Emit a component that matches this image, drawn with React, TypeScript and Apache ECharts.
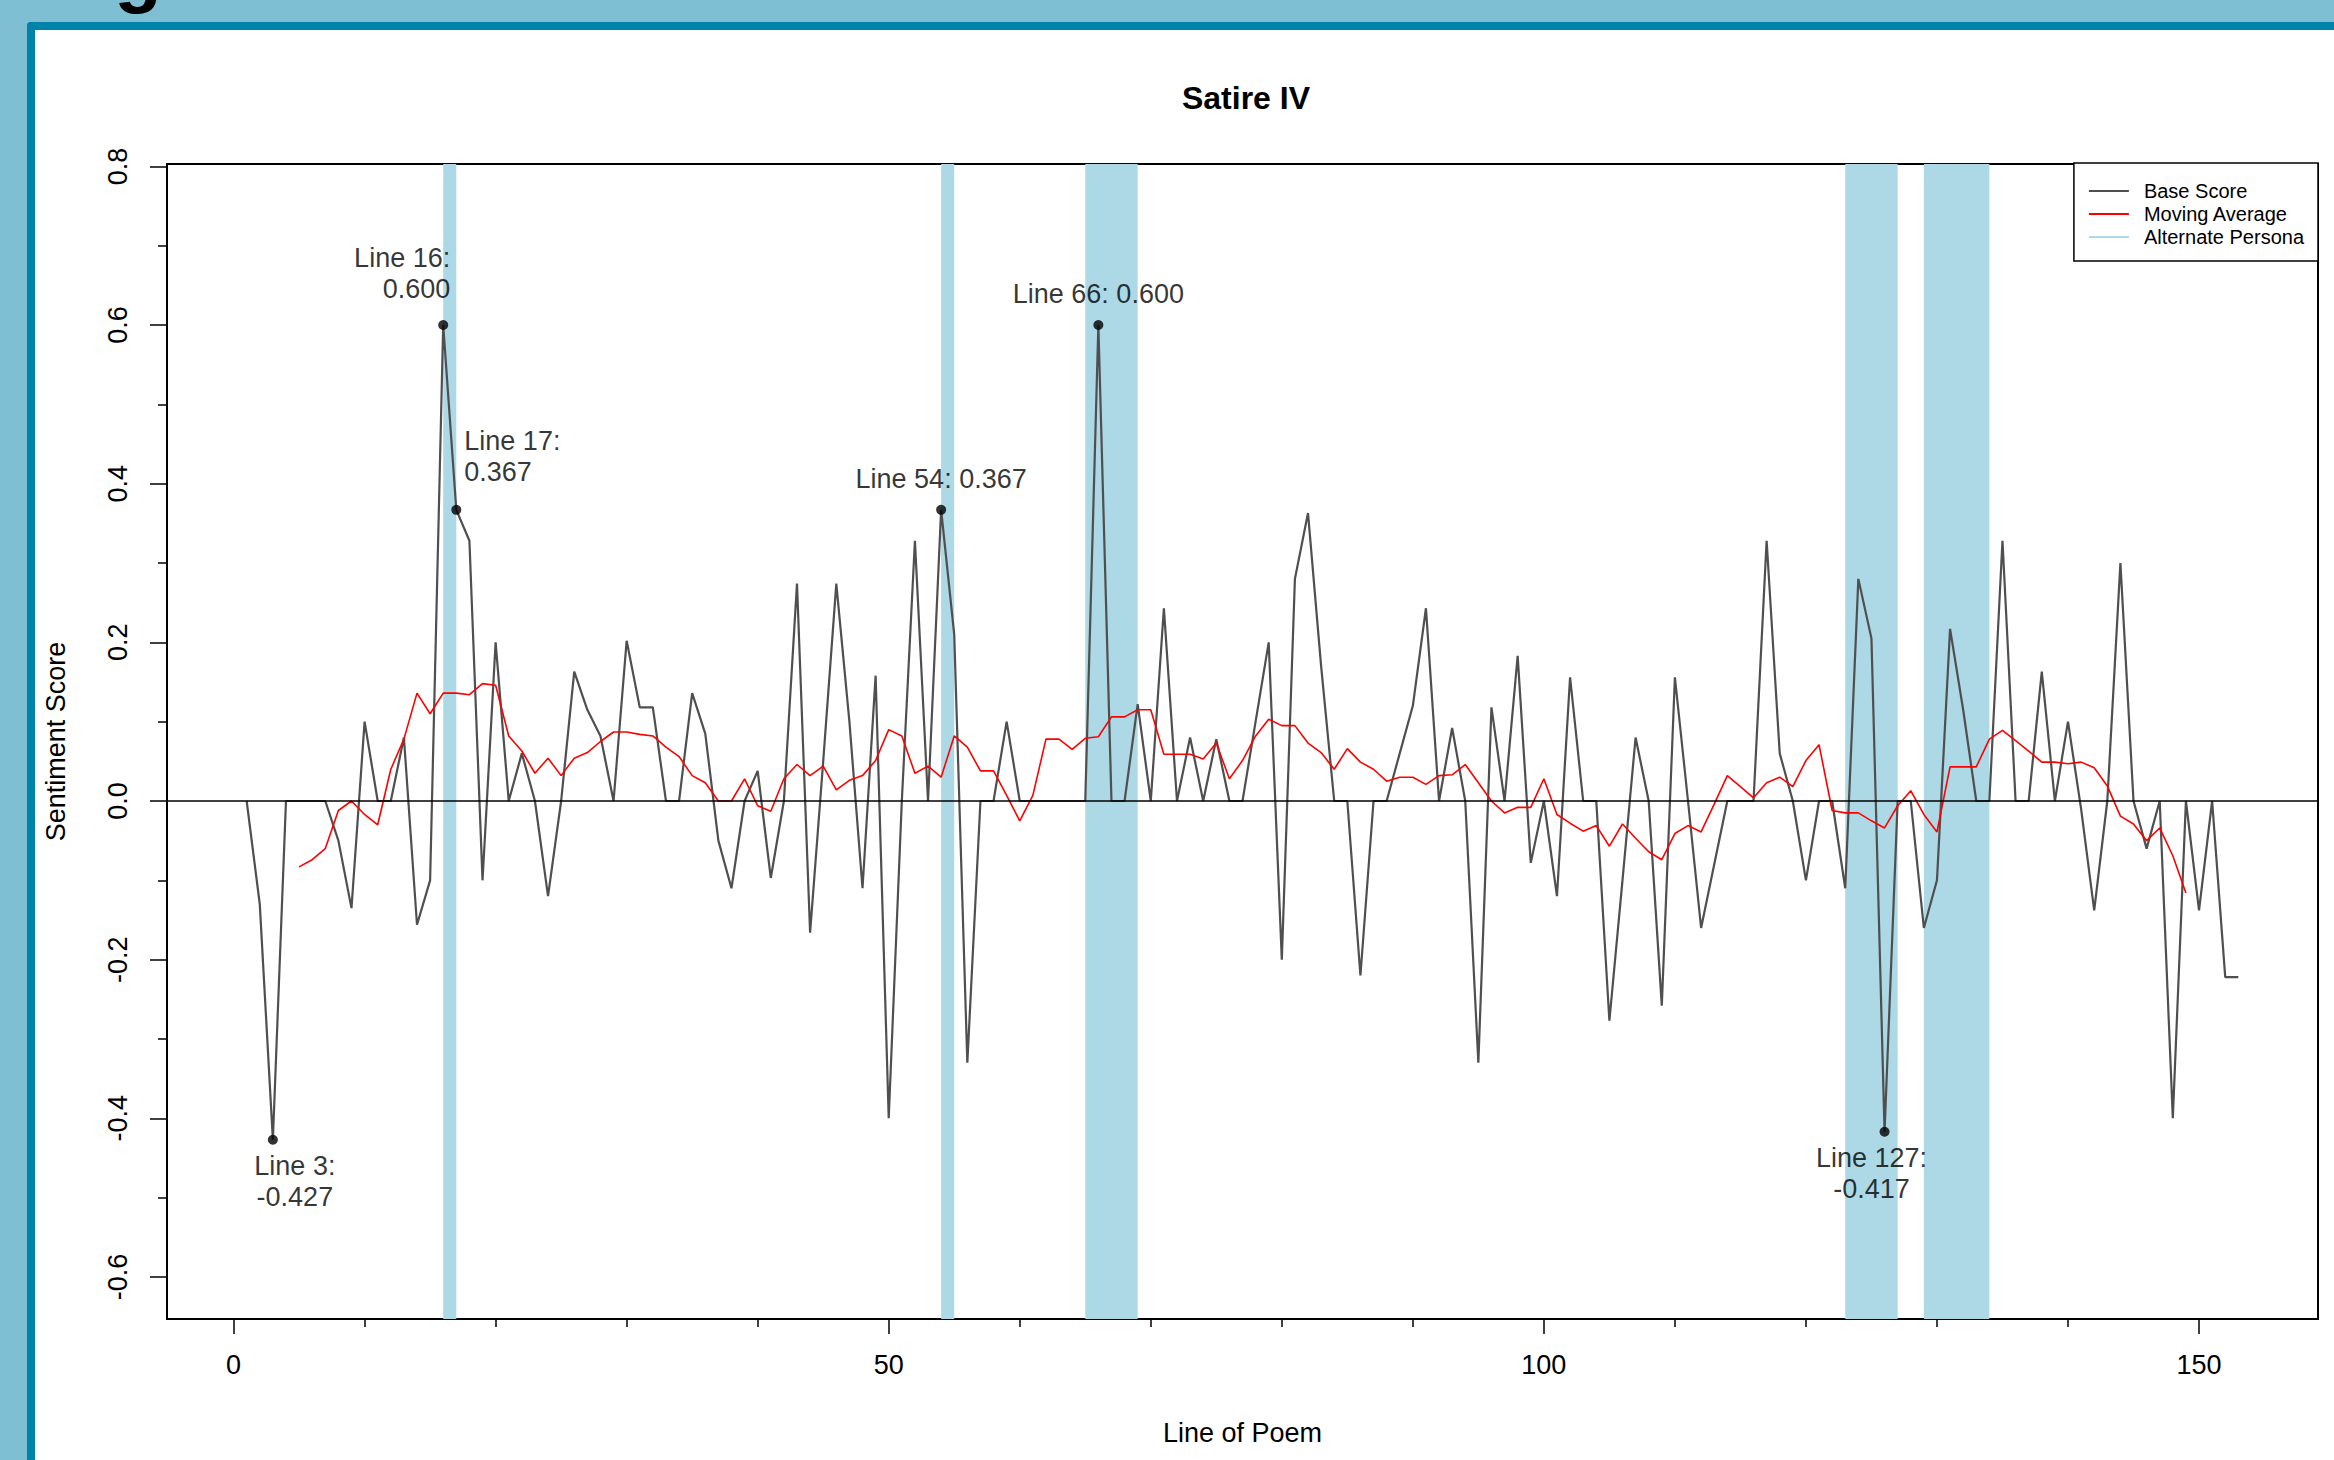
import React, { useEffect, useRef } from "react";
import * as echarts from "echarts";

const FIGURE_CAPTION = "Figure 4: Sentiment Fluctuation in Satire IV";
const CHART_TITLE = "Satire IV";
const X_AXIS_TITLE = "Line of Poem";
const Y_AXIS_TITLE = "Sentiment Score";
const SERIES_NAMES = ["Base Score", "Moving Average", "Alternate Persona"];

// Base sentiment score for poem lines 1..153
const baseScore = [
  0, -0.13, -0.427, 0, 0, 0, 0, -0.05, -0.135, 0.1,
  0, 0, 0.08, -0.156, -0.1, 0.6, 0.367, 0.328, -0.1, 0.2,
  0, 0.06, 0, -0.12, 0, 0.163, 0.115, 0.082, 0, 0.202,
  0.118, 0.118, 0, 0, 0.136, 0.085, -0.05, -0.11, 0, 0.038,
  -0.097, 0, 0.274, -0.166, 0.05, 0.274, 0.1, -0.11, 0.158, -0.4,
  0, 0.328, 0, 0.367, 0.21, -0.33, 0, 0, 0.1, 0,
  0, 0, 0, 0, 0, 0.6, 0, 0, 0.122, 0,
  0.243, 0, 0.08, 0, 0.078, 0, 0, 0.1, 0.2, -0.2,
  0.28, 0.363, 0.17, 0, 0, -0.22, 0, 0, 0.06, 0.12,
  0.243, 0, 0.092, 0, -0.33, 0.118, 0, 0.183, -0.078, 0,
  -0.12, 0.156, 0, 0, -0.277, -0.1, 0.08, 0, -0.258, 0.156,
  0, -0.16, -0.08, 0, 0, 0, 0.328, 0.06, 0, -0.1,
  0, 0, -0.11, 0.28, 0.205, -0.417, 0, 0, -0.16, -0.1,
  0.217, 0.115, 0, 0, 0.328, 0, 0, 0.163, 0, 0.1,
  -0.01, -0.138, 0, 0.3, 0, -0.06, 0, -0.4, 0, -0.138,
  0, -0.222, -0.222,
];

// Moving average, first value at line 5, last at line 149
const movingAverageStart = 5;
const movingAverage = [
  -0.083, -0.074, -0.06, -0.012, 0, -0.017, -0.03, 0.04, 0.078, 0.136,
  0.11, 0.136, 0.136, 0.134, 0.148, 0.146, 0.082, 0.063, 0.035, 0.054,
  0.032, 0.054, 0.061, 0.075, 0.087, 0.087, 0.084, 0.082, 0.068, 0.056,
  0.032, 0.023, 0, 0, 0.028, -0.006, -0.013, 0.028, 0.046, 0.032,
  0.044, 0.014, 0.026, 0.032, 0.051, 0.09, 0.082, 0.035, 0.044, 0.03,
  0.082, 0.068, 0.038, 0.038, 0.007, -0.025, 0.007, 0.078, 0.078, 0.065,
  0.079, 0.081, 0.106, 0.106, 0.115, 0.115, 0.059, 0.059, 0.059, 0.053,
  0.073, 0.028, 0.051, 0.082, 0.103, 0.095, 0.095, 0.073, 0.061, 0.04,
  0.066, 0.049, 0.04, 0.025, 0.03, 0.03, 0.021, 0.032, 0.033, 0.046,
  0.023, 0, -0.015, -0.008, -0.008, 0.028, -0.017, -0.028, -0.038, -0.031,
  -0.057, -0.029, -0.047, -0.064, -0.074, -0.041, -0.031, -0.039, -0.004, 0.032,
  0.018, 0.004, 0.023, 0.03, 0.018, 0.051, 0.071, -0.012, -0.015, -0.015,
  -0.025, -0.034, -0.006, 0.013, -0.017, -0.039, 0.043, 0.043, 0.043, 0.078,
  0.089, 0.076, 0.063, 0.049, 0.049, 0.047, 0.049, 0.042, 0.019, -0.019,
  -0.029, -0.05, -0.034, -0.069, -0.116,
];

// Alternate persona passages (start line, end line)
const alternatePersonaRanges = [
  [16, 17],
  [54, 55],
  [65, 69],
  [123, 127],
  [129, 134],
];

// Highlighted extremes
const highlightLineNumbers = [3, 16, 17, 54, 66, 127];
const highlightPositions = [3, 16, 17, 54, 66, 126];
const highlightValues = [-0.427, 0.6, 0.367, 0.367, 0.6, -0.417];

const xTickLabels = [0, 50, 100, 150];
const xMinorTicks = [10, 20, 30, 40, 60, 70, 80, 90, 110, 120, 130, 140];
const yTickLabels = [-0.6, -0.4, -0.2, 0, 0.2, 0.4, 0.6, 0.8];
const yMinorTicks = [-0.5, -0.3, -0.1, 0.1, 0.3, 0.5, 0.7];

const X_MIN = -5.08;
const X_MAX = 159.08;
const Y_MIN = -0.653;
const Y_MAX = 0.803;

const FONT = '"Liberation Sans", Arial, Helvetica, sans-serif';

const labelLayouts = [
  { sep: "\n", align: "center", offset: [22, 42] },
  { sep: "\n", align: "right", offset: [7, -52] },
  { sep: "\n", align: "left", offset: [8, -53] },
  { sep: " ", align: "center", offset: [0, -31] },
  { sep: " ", align: "center", offset: [0, -31] },
  { sep: "\n", align: "center", offset: [-13, 42] },
];

export default function App() {
  const ref = useRef<HTMLDivElement>(null);

  useEffect(() => {
    document.body.style.margin = "0";
    if (!ref.current) return;
    const chart = echarts.init(ref.current, null, { renderer: "svg" });

    const baseData = baseScore.map((v, i) => [i + 1, v]);
    const maData = movingAverage.map((v, i) => [movingAverageStart + i, v]);
    const highlightData = highlightPositions.map((x, i) => {
      const lay = labelLayouts[i];
      return {
        value: [x, highlightValues[i]],
        label: {
          show: true,
          position: "inside",
          formatter: `Line ${highlightLineNumbers[i]}:${lay.sep}${highlightValues[i].toFixed(3)}`,
          align: lay.align,
          verticalAlign: "middle",
          offset: lay.offset,
          fontSize: 27,
          lineHeight: 31,
          fontFamily: FONT,
          color: "#000",
        },
      };
    });

    const tickLine = { color: "#000", width: 1.5 };
    const axisText = { fontSize: 27, fontFamily: FONT, color: "#000" };
    const hiddenLine = { show: false, onZero: false };

    chart.setOption({
      animation: false,
      backgroundColor: "transparent",
      title: {
        text: CHART_TITLE,
        left: 1241,
        textAlign: "center",
        top: 77,
        textStyle: { fontSize: 32, fontWeight: "bold", fontFamily: FONT, color: "#000" },
      },
      graphic: [
        {
          type: "text",
          x: 45,
          y: -29,
          silent: true,
          style: {
            text: FIGURE_CAPTION,
            font: `bold 78px ${FONT}`,
            fill: "#000",
            verticalAlign: "middle",
            textVerticalAlign: "middle",
          },
        },
      ],
      legend: {
        orient: "vertical",
        right: 16,
        top: 163,
        data: SERIES_NAMES,
        icon: "rect",
        itemWidth: 40,
        itemHeight: 2,
        itemGap: 1,
        padding: [17, 14, 13, 15],
        borderColor: "#000",
        borderWidth: 1.5,
        backgroundColor: "#fff",
        selectedMode: false,
        textStyle: { fontSize: 20, lineHeight: 22, fontFamily: FONT, color: "#000", padding: [0, 0, 0, 10] },
      },
      grid: {
        left: 167,
        right: 16,
        top: 164,
        bottom: 141,
        show: true,
        borderColor: "#000",
        borderWidth: 2,
        backgroundColor: "transparent",
      },
      xAxis: [
        {
          type: "value",
          min: X_MIN,
          max: X_MAX,
          position: "bottom",
          splitLine: { show: false },
          axisLine: hiddenLine,
          axisTick: { show: true, customValues: xTickLabels, length: 15, lineStyle: tickLine },
          axisLabel: { show: true, customValues: xTickLabels, margin: 32, ...axisText },
          name: X_AXIS_TITLE,
          nameLocation: "middle",
          nameGap: 100,
          nameTextStyle: axisText,
        },
        {
          type: "value",
          min: X_MIN,
          max: X_MAX,
          position: "bottom",
          offset: 0,
          splitLine: { show: false },
          axisLine: hiddenLine,
          axisTick: { show: true, customValues: xMinorTicks, length: 8, lineStyle: tickLine },
          axisLabel: { show: false },
        },
      ],
      yAxis: [
        {
          type: "value",
          min: Y_MIN,
          max: Y_MAX,
          position: "left",
          splitLine: { show: false },
          axisLine: hiddenLine,
          axisTick: { show: true, customValues: yTickLabels, length: 17, lineStyle: tickLine },
          axisLabel: {
            show: true,
            customValues: yTickLabels,
            rotate: 90,
            margin: 36,
            formatter: (v: number) => v.toFixed(1),
            ...axisText,
          },
          name: Y_AXIS_TITLE,
          nameLocation: "middle",
          nameGap: 98,
          nameTextStyle: axisText,
        },
        {
          type: "value",
          min: Y_MIN,
          max: Y_MAX,
          position: "left",
          offset: 0,
          splitLine: { show: false },
          axisLine: hiddenLine,
          axisTick: { show: true, customValues: yMinorTicks, length: 9, lineStyle: tickLine },
          axisLabel: { show: false },
        },
      ],
      series: [
        {
          name: SERIES_NAMES[2],
          type: "line",
          data: [],
          z: 1,
          itemStyle: { color: "#add8e6" },
          lineStyle: { color: "#add8e6" },
          markArea: {
            silent: true,
            itemStyle: { color: "#add8e6", opacity: 1 },
            data: alternatePersonaRanges.map(([a, b]) => [{ xAxis: a }, { xAxis: b }]),
          },
        },
        {
          name: SERIES_NAMES[0],
          type: "line",
          data: baseData,
          z: 3,
          showSymbol: false,
          symbol: "none",
          itemStyle: { color: "#4f4f4f" },
          lineStyle: { color: "#4f4f4f", width: 2.2 },
          markLine: {
            silent: true,
            symbol: ["none", "none"],
            label: { show: false },
            lineStyle: { color: "#000", width: 1.5, type: "solid" },
            data: [{ yAxis: 0 }],
          },
        },
        {
          name: SERIES_NAMES[1],
          type: "line",
          data: maData,
          z: 4,
          showSymbol: false,
          symbol: "none",
          itemStyle: { color: "#ff0000" },
          lineStyle: { color: "#ff0000", width: 1.6 },
        },
        {
          name: "Highlights",
          type: "scatter",
          data: highlightData,
          z: 5,
          symbol: "circle",
          symbolSize: 10,
          itemStyle: { color: "#000" },
        },
      ],
    });

    return () => chart.dispose();
  }, []);

  return (
    <div style={{ position: "fixed", left: 0, top: 0, width: 2334, height: 1460, background: "#7fbfd3", overflow: "hidden" }}>
      <div
        style={{
          position: "absolute",
          left: 27,
          top: 22,
          width: 2400,
          height: 1500,
          background: "#ffffff",
          borderLeft: "8px solid #0083a8",
          borderTop: "8px solid #0083a8",
          borderTopLeftRadius: 4,
        }}
      />
      <div ref={ref} style={{ position: "absolute", left: 0, top: 0, width: 2334, height: 1460 }} />
    </div>
  );
}
